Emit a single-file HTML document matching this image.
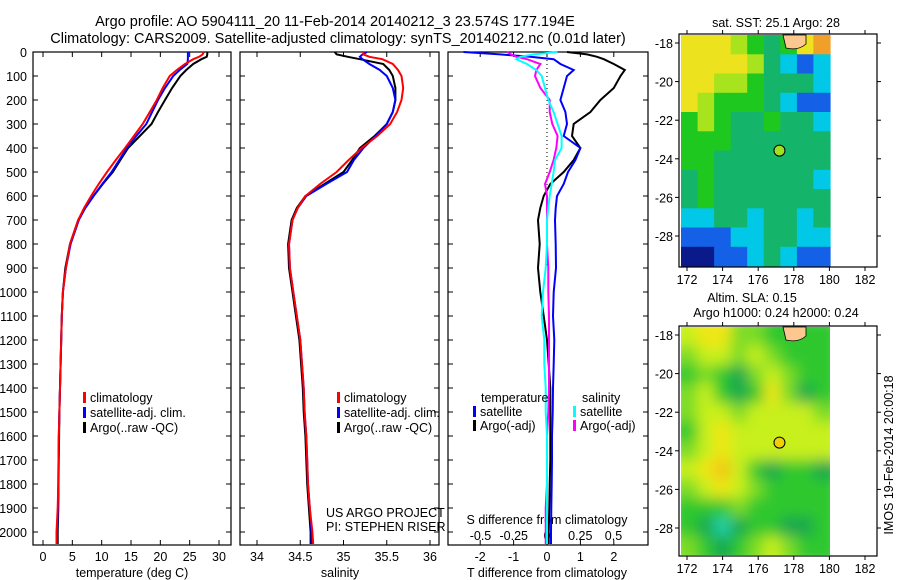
<!DOCTYPE html>
<html><head><meta charset="utf-8"><style>
body{margin:0;background:#fff}
svg{display:block;font-family:"Liberation Sans",sans-serif}
text{font-size:12.5px;fill:#000}
</style></head><body>
<svg id="c" width="900" height="580" viewBox="0 0 900 580">
<defs><filter id="bl" x="0" y="0" width="1" height="1"><feGaussianBlur stdDeviation="7"/></filter>
<clipPath id="cp2"><rect x="681" y="327" width="149" height="228"/></clipPath></defs>
<text x="335" y="26" text-anchor="middle" style="font-size:14.5px">Argo profile: AO 5904111_20 11-Feb-2014 20140212_3 23.574S 177.194E</text>
<text x="338" y="43" text-anchor="middle" style="font-size:14.5px">Climatology: CARS2009. Satellite-adjusted climatology: synTS_20140212.nc (0.01d later)</text>
<g id="g"></g>
</svg>
<script>
// ---- data ----
const depths=[0,10,20,30,50,75,100,150,200,250,300,350,400,450,500,550,600,650,700,800,900,1000,1100,1200,1300,1400,1500,1600,1700,1800,1900,2000,2050];
const tClim=[27.4,27.2,26.6,25.6,24.2,22.8,21.6,20.4,19.4,18.2,17.0,15.5,14.0,12.4,10.9,9.5,8.2,7.0,6.0,4.6,3.9,3.4,3.2,3.1,3.0,2.9,2.8,2.7,2.65,2.6,2.5,2.3,2.3];
const tSat=[24.7,24.7,24.7,24.7,24.6,23.3,22.2,20.8,19.6,18.6,17.6,15.9,14.3,13.0,11.7,10.1,8.6,7.2,6.1,4.7,3.9,3.4,3.2,3.1,3.0,2.9,2.8,2.7,2.65,2.6,2.55,2.4,2.4];
const tArgo=[28.0,28.0,27.9,27.0,25.6,24.4,23.4,22.0,20.8,19.6,18.5,16.5,14.5,13.2,11.9,10.2,8.6,7.2,6.0,4.6,3.8,3.4,3.2,3.1,3.0,2.9,2.8,2.75,2.7,2.65,2.6,2.5,2.5];
const sClim=[35.23,35.23,35.3,35.45,35.57,35.63,35.67,35.69,35.67,35.62,35.54,35.39,35.21,35.06,34.92,34.73,34.56,34.47,34.41,34.37,34.38,34.42,34.46,34.50,34.52,34.54,34.55,34.57,34.58,34.59,34.61,34.64,34.65];
const sSat=[35.27,35.22,35.19,35.22,35.3,35.42,35.5,35.57,35.6,35.57,35.5,35.37,35.23,35.12,35.04,34.8,34.57,34.47,34.41,34.37,34.38,34.42,34.46,34.50,34.52,34.54,34.55,34.57,34.58,34.59,34.61,34.63,34.63];
const sArgo=[34.9,34.92,35.05,35.19,35.46,35.53,35.57,35.6,35.6,35.57,35.5,35.36,35.19,35.1,35.0,34.78,34.56,34.46,34.40,34.36,34.37,34.41,34.45,34.49,34.51,34.53,34.54,34.56,34.57,34.58,34.6,34.62,34.62];
const dtSat=[-2.5,-1.4,-0.5,0.2,0.4,0.8,0.6,0.5,0.4,0.55,0.6,0.5,1.0,0.85,0.63,0.5,0.3,0.26,0.24,0.26,0.27,0.2,0.18,0.22,0.2,0.18,0.17,0.15,0.15,0.14,0.13,0.12,0.12];
const dtArgo=[0.6,1.2,1.5,1.7,2.0,2.33,2.2,2.0,1.6,1.3,0.8,0.75,1.0,0.8,0.5,0.1,-0.1,-0.2,-0.27,-0.22,-0.27,-0.2,-0.1,0.0,0.05,0.1,0.1,0.1,0.1,0.08,0.07,0.05,0.05];
const dsSat=[0.08,-0.1,-0.2,-0.23,-0.15,-0.08,-0.04,-0.015,0.01,0.05,0.08,0.11,0.11,0.06,0.05,0.035,0.02,0.01,0.0,0.0,-0.01,-0.03,-0.04,-0.02,-0.02,-0.01,-0.01,0.0,0.0,0.0,0.0,0.0,0.0];
const dsArgo=[-0.3,-0.27,-0.23,-0.15,-0.05,-0.08,-0.09,-0.05,0.02,0.02,0.04,0.08,0.07,0.05,0.02,-0.015,0.0,0.0,0.0,0.0,0.01,0.01,0.015,0.015,0.015,0.015,0.01,0.0,0.0,0.0,-0.01,-0.01,-0.01];
const depthTicks=[0,100,200,300,400,500,600,700,800,900,1000,1100,1200,1300,1400,1500,1600,1700,1800,1900,2000];
const tTicks=[0,5,10,15,20,25,30];
const sTicks=[34,34.5,35,35.5,36];
const dtTicks=[-2,-1,0,1,2];
const dsTicks=[-0.5,-0.25,0,0.25,0.5];
const latTicks=[-18,-20,-22,-24,-26,-28];
const lonTicks=[172,174,176,178,180,182];
const sstGrid=[
[6,6,6,5,4,3,4,6,7],[6,6,6,6,5,3,2,1,2],[6,6,5,5,4,3,3,3,2],[6,5,4,4,4,3,2,1,1],
[4,5,4,3,3,4,3,3,2],[4,4,4,3,3,3,3,3,3],[4,4,3,3,3,3,3,3,3],[3,4,3,3,3,3,3,3,2],
[3,4,3,3,3,3,3,3,3],[2,2,3,3,2,3,3,2,3],[1,1,1,2,2,3,3,2,2],[0,0,1,1,2,3,2,1,1]];
const slaGrid=[
[4,5,5,3,3,2,2,2,2],[3,4,4,3,4,3,2,2,2],[2,3,2,1,3,4,3,2,2],[3,4,2,1,2,5,3,1,2],
[3,4,4,3,4,4,4,4,3],[2,4,5,4,4,4,4,4,4],[3,4,5,4,4,4,4,4,4],[4,5,6,4,2,1,2,2,1],
[3,4,5,4,3,2,2,2,2],[2,2,2,3,2,2,2,2,2],[2,1,0,1,2,2,1,1,2],[3,2,1,2,3,4,3,2,2]];
const argoLon=177.194, argoLat=-23.574;

// ---- drawing ----
const NS='http://www.w3.org/2000/svg';
const G=document.getElementById('g');
function mk(tag,at,parent){const e=document.createElementNS(NS,tag);for(const k in at)e.setAttribute(k,at[k]);(parent||G).appendChild(e);return e;}
function txt(x,y,s,anchor,parent){const e=mk('text',{x:x,y:y,'text-anchor':anchor||'start'},parent);e.textContent=s;return e;}
const yTop=52,yBot=545;
const yD=d=>yTop+d*0.24;
const panels=[
 {x0:33,x1:231,xf:v=>43+v*5.867,name:'temperature'},
 {x0:240,x1:439,xf:v=>257+(v-34)*86.5,name:'salinity'},
 {x0:448,x1:648,xf:v=>547+v*33.4,name:'difference'}];
const xS=v=>547+v*133;
panels.forEach(p=>{
 const r=mk('rect',{x:p.x0,y:yTop,width:p.x1-p.x0,height:yBot-yTop,fill:'none',stroke:'#000','stroke-width':1.2});
 
 
});
depthTicks.forEach(d=>{
 const t=txt(27,yD(d)+5,String(d),'end');
 
 
 panels.forEach(p=>{mk('line',{x1:p.x0,x2:p.x0+5,y1:yD(d),y2:yD(d),stroke:'#000'});mk('line',{x1:p.x1,x2:p.x1-5,y1:yD(d),y2:yD(d),stroke:'#000'});});
});
function xticks(ticks,xf){ticks.forEach(v=>{const x=xf(v);
 mk('line',{x1:x,x2:x,y1:yBot,y2:yBot-5,stroke:'#000'});mk('line',{x1:x,x2:x,y1:yTop,y2:yTop+5,stroke:'#000'});
 const t=txt(x,561,String(v),'middle');
 
 });}
xticks(tTicks,panels[0].xf);
xticks(sTicks,panels[1].xf);
xticks(dtTicks,panels[2].xf);
dsTicks.forEach(v=>{const t=txt(xS(v),540,String(v),'middle');
 
 });
[[132,'temperature (deg C)'],[340,'salinity'],[547,'T difference from climatology']].forEach(a=>{const t=txt(a[0],577,a[1],'middle');
 
 });
{const t=txt(547,524,'S difference from climatology','middle');
 
 }
{const t=txt(326,517,'US ARGO PROJECT');
 const t2=txt(326,531,'PI: STEPHEN RISER');}
{const l=mk('line',{x1:547,x2:547,y1:yTop,y2:265,stroke:'#000','stroke-dasharray':'1,3'});}
function prof(vals,xf,color,name,w){
 const pts=vals.map((v,i)=>xf(v).toFixed(1)+','+yD(depths[i]).toFixed(1)).join(' ');
 const l=mk('polyline',{points:pts,fill:'none',stroke:color,'stroke-width':w||2});
 
 
}
prof(tArgo,panels[0].xf,'#000','temp-argo-line');
prof(tSat,panels[0].xf,'#0000ff','temp-satellite-line');
prof(tClim,panels[0].xf,'#ff0000','temp-climatology-line');
prof(sArgo,panels[1].xf,'#000','sal-argo-line');
prof(sSat,panels[1].xf,'#0000ff','sal-satellite-line');
prof(sClim,panels[1].xf,'#ff0000','sal-climatology-line');
prof(dtArgo,panels[2].xf,'#000','tdiff-argo-line');
prof(dtSat,panels[2].xf,'#0000ff','tdiff-satellite-line');
prof(dsArgo,xS,'#ff00ff','sdiff-argo-line');
prof(dsSat,xS,'#00ffff','sdiff-satellite-line');
function legend(x,y,color,label){
 mk('rect',{x:x-1,y:y-10,width:3,height:11,fill:color});
 const t=txt(x+6,y,label);
 
 
}
[84,338].forEach(x=>{legend(x,402,'#ff0000','climatology');legend(x,417,'#0000ff','satellite-adj. clim.');legend(x,432,'#000','Argo(..raw -QC)');});
{const t=txt(481,402,'temperature');
 const t2=txt(582,402,'salinity');}
legend(474,416,'#0000ff','satellite');legend(474,430,'#000','Argo(-adj)');
legend(574,416,'#00ffff','satellite');legend(574,430,'#ff00ff','Argo(-adj)');

// ---- maps ----
const sstCols=['#0a1a8a','#1460e6','#00c8e6','#14b46a','#1ec81e','#a8e41e','#ece21e','#f0a028'];
const slaCols=['#22d2a8','#14a650','#2ec82e','#7cdc28','#c8f01e','#f0e614','#f2c414'];
function map(y0,y1,grid,cols,name,blur,labs){
 const gx0=681,gx1=830,fx0=679,fx1=877;
 const lonX=l=>687+(l-172)*17.8;
 const latY=v=>y0+9+(-18-v)*19.3;
 const grp=mk('g',blur?{'clip-path':'url(#cp2)'}:{});
 const inner=blur?mk('g',{filter:'url(#bl)'},grp):grp;
 const nr=grid.length,nc=grid[0].length,cw=(gx1-gx0)/nc,ch=(y1-y0-2)/nr;
 const pad=blur?10:0;
 grid.forEach((row,i)=>row.forEach((v,j)=>{
  const x=gx0+j*cw-(j==0?pad:0), y=y0+1+i*ch-(i==0?pad:0);
  const w=cw+0.6+(j==0||j==nc-1?pad:0), h=ch+0.6+(i==0||i==nr-1?pad:0);
  const c=mk('rect',{x:x.toFixed(1),y:y.toFixed(1),width:w.toFixed(1),height:h.toFixed(1),fill:cols[v]},inner);
  
  
 }));
 const land=mk('path',{d:`M783 ${y0+1} L806 ${y0+1} L806 ${y0+10} Q798 ${y0+17} 786 ${y0+14} Z`,fill:'#fcc890',stroke:'#000','stroke-width':0.8});
 
 
 const fr=mk('rect',{x:fx0,y:y0,width:fx1-fx0,height:y1-y0,fill:'none',stroke:'#000','stroke-width':1.2});
 
 
 latTicks.forEach(v=>{const y=latY(v);mk('line',{x1:fx0,x2:fx0-4,y1:y,y2:y,stroke:'#000'});mk('line',{x1:fx1,x2:fx1+4,y1:y,y2:y,stroke:'#000'});
  const t=txt(673,y+5,String(v),'end');});
 lonTicks.forEach(v=>{const x=lonX(v);mk('line',{x1:x,x2:x,y1:y1,y2:y1+4,stroke:'#000'});mk('line',{x1:x,x2:x,y1:y0,y2:y0-4,stroke:'#000'});
  const t=txt(x,y1+17,String(v),'middle');});
 const m=mk('circle',{cx:lonX(argoLon),cy:latY(argoLat),r:5.5,fill:blur?'#f0d000':'#a0e020',stroke:'#000'});
 
 
 labs.forEach(l=>{const t=txt(l[0],l[1],l[2],'middle');});
}
map(34,267,sstGrid,sstCols,'sst-map',false,[[776,27,'sat. SST: 25.1  Argo: 28']]);
map(326,556,slaGrid,slaCols,'sla-map',true,[[752,302,'Altim. SLA: 0.15'],[776,317,'Argo h1000: 0.24 h2000: 0.24']]);
{const t=txt(0,0,'IMOS 19-Feb-2014 20:00:18','middle');
 t.setAttribute('transform','translate(893,455) rotate(-90)');
 
 }
</script>
</body></html>
